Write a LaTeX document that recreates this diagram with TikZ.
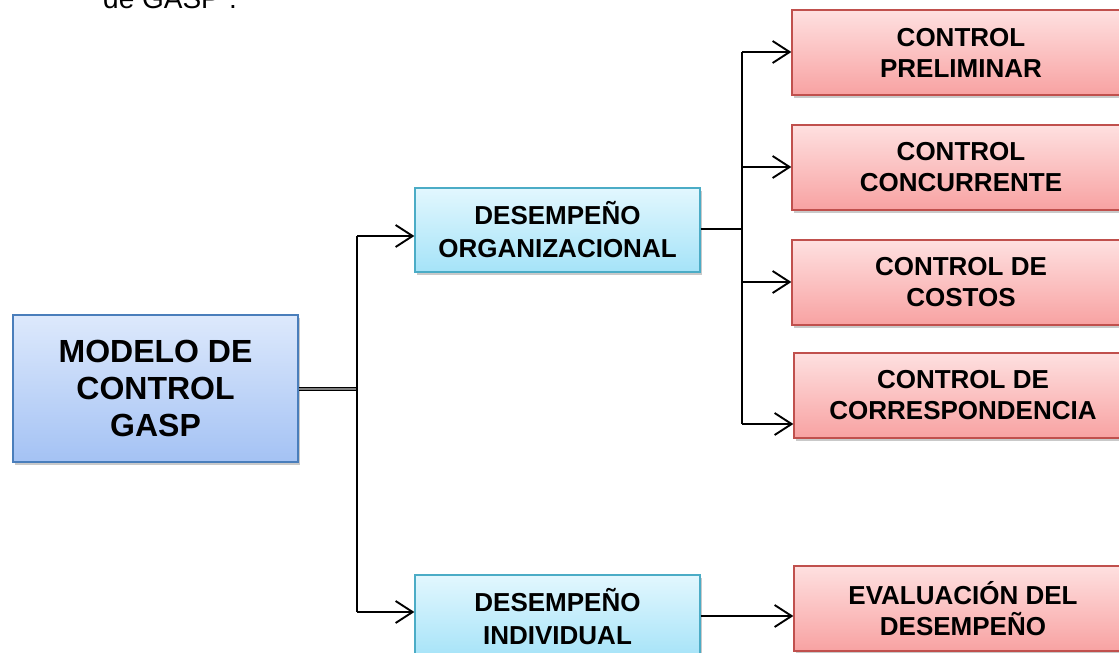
\documentclass[tikz,border=0pt]{standalone}
\usepackage{fontspec}
\setmainfont{Liberation Sans}
\usetikzlibrary{arrows.meta,shadows}
\definecolor{mainT}{HTML}{DDE9FC}
\definecolor{mainB}{HTML}{A4C2F4}
\definecolor{mainD}{HTML}{4A7EBB}
\definecolor{cyT}{HTML}{E2F7FE}
\definecolor{cyB}{HTML}{A5E3F8}
\definecolor{cyD}{HTML}{4BACC6}
\definecolor{rdT}{HTML}{FEE0E0}
\definecolor{rdB}{HTML}{F8A2A2}
\definecolor{rdD}{HTML}{C0504D}
\tikzset{
  boxbase/.style={rectangle, line width=1.3pt, align=center, inner sep=0pt,
    drop shadow={shadow xshift=2pt, shadow yshift=-3pt, opacity=0.35, fill=black!60}},
  mainbox/.style={boxbase, draw=mainD, top color=mainT, bottom color=mainB,
    minimum width=285pt, minimum height=147pt,
    font=\fontsize{32}{37}\selectfont\bfseries},
  cybox/.style={boxbase, draw=cyD, top color=cyT, bottom color=cyB,
    minimum width=285pt, minimum height=84pt,
    font=\fontsize{26}{33}\selectfont\bfseries},
  rdbox/.style={boxbase, draw=rdD, top color=rdT, bottom color=rdB,
    minimum width=338pt, minimum height=85pt,
    font=\fontsize{26}{31}\selectfont\bfseries},
  conn/.style={line width=1.9pt, draw=black},
  arr/.style={conn, -{Straight Barb[length=17pt,width=22pt,line width=1.9pt]}},
}
\begin{document}
\begin{tikzpicture}[x=1pt,y=-1pt]
\useasboundingbox (0,0) rectangle (1119,653);
\fill[white] (0,0) rectangle (1119,653);
\begin{scope}
\clip (0,0) rectangle (1119,653);
\node[anchor=base west, font=\fontsize{28}{32}\selectfont, inner sep=0pt] (top) at (103,9) {de GASP”.};

\node[mainbox] (main) at (155.5,388.5) {MODELO DE\\CONTROL\\GASP};
\node[cybox] (org) at (557.5,230) {DESEMPEÑO\\ORGANIZACIONAL};
\node[cybox] (ind) at (557.5,617) {DESEMPEÑO\\INDIVIDUAL};

\node[rdbox] (pre) at (961,52.5) {CONTROL\\PRELIMINAR};
\node[rdbox] (con) at (961,167.5) {CONTROL\\CONCURRENTE};
\node[rdbox] (cos) at (961,282.5) {CONTROL DE\\COSTOS};
\node[rdbox] (cor) at (963,395.5) {CONTROL DE\\CORRESPONDENCIA};
\node[rdbox] (eva) at (963,608.5) {EVALUACIÓN DEL\\DESEMPEÑO};

% bus from main
\coordinate (b1) at (357,389);
\coordinate (b1t) at (357,236);
\coordinate (b1b) at (357,612);
\draw[line width=1.4pt, double=black!50, double distance=2pt] ([yshift=-0.5pt]main.east) -- (b1);
\draw[conn] (b1t) -- (b1b);
\draw[arr] (b1t) -- (b1t -| org.west);
\draw[arr] (b1b) -- (b1b -| ind.west);

% bus from org
\coordinate (b2) at (742,229);
\coordinate (b2t) at (742,52);
\coordinate (b2b) at (742,424);
\draw[conn] ([yshift=1pt]org.east) -- (b2);
\draw[conn] (b2t) -- (b2b);
\draw[arr] (b2t) -- (b2t -| pre.west);
\draw[arr] (742,167) -- (con.west |- 742,167);
\draw[arr] (742,282) -- (cos.west |- 742,282);
\draw[arr] (b2b) -- (b2b -| cor.west);

\draw[arr] ([yshift=1pt]ind.east) -- ([yshift=1pt]ind.east -| eva.west);
\end{scope}
\end{tikzpicture}
\end{document}
